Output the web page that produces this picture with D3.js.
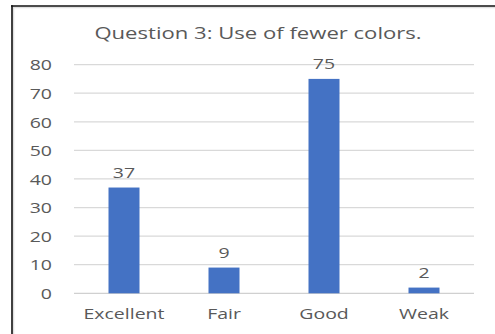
<!DOCTYPE html>
<html>
<head>
<meta charset="utf-8">
<script src="https://cdn.jsdelivr.net/npm/d3@7"></script>
<style>
  html, body { margin: 0; padding: 0; background: #fff; }
  svg { display: block; }
  text { font-family: "Open Sans", "DejaVu Sans", sans-serif; fill: #595959; }
</style>
</head>
<body>
<svg id="chart" width="495" height="334"></svg>
<script>
const title = "Question 3: Use of fewer colors.";
const categories = ["Excellent", "Fair", "Good", "Weak"];
const values = [37, 9, 75, 2];
const yTicks = [0, 10, 20, 30, 40, 50, 60, 70, 80];

const W = 495, H = 334;
const margin = { left: 74, right: 21, top: 65, bottom: 41 };
const stretch = 1.3; // wide lettering
const svg = d3.select("#chart");

// frame edges (top and left)
svg.append("line").attr("x1", 12).attr("x2", W).attr("y1", 7.5).attr("y2", 7.5)
  .attr("stroke", "#e0e0e0").attr("stroke-width", 1.5);
svg.append("line").attr("x1", 13.5).attr("x2", 13.5).attr("y1", 6).attr("y2", H)
  .attr("stroke", "#e0e0e0").attr("stroke-width", 1.5);
svg.append("line").attr("x1", 11).attr("x2", W).attr("y1", 6).attr("y2", 6)
  .attr("stroke", "#111").attr("stroke-width", 1.6);
svg.append("line").attr("x1", 12).attr("x2", 12).attr("y1", 5.2).attr("y2", H)
  .attr("stroke", "#111").attr("stroke-width", 1.6);

const x = d3.scaleBand().domain(categories)
  .range([margin.left, W - margin.right]).paddingInner(0.69).paddingOuter(0.345);
const y = d3.scaleLinear().domain([0, 80]).range([293.3, 64.6]);

// gridlines
svg.append("g").selectAll("line").data(yTicks).join("line")
  .attr("x1", margin.left).attr("x2", W - margin.right)
  .attr("y1", d => y(d)).attr("y2", d => y(d))
  .attr("stroke", d => d === 0 ? "#d0d0d0" : "#d9d9d9").attr("stroke-width", 1.2);

// y axis labels
const yAxis = d3.axisLeft(y).tickValues(yTicks).tickSize(0).tickPadding(0);
const gy = svg.append("g").attr("transform", "translate(52,0)").call(yAxis);
gy.select(".domain").remove();
gy.selectAll("text").style("font-size", "15px").attr("fill", "#595959")
  .attr("dy", "0.35em").attr("transform", `scale(${stretch},1)`);

// bars
svg.append("g").selectAll("rect").data(values).join("rect")
  .attr("x", (d, i) => x(categories[i]))
  .attr("width", x.bandwidth())
  .attr("y", d => y(d))
  .attr("height", d => y(0) - y(d))
  .attr("fill", "#4472c4");

// value labels
svg.append("g").selectAll("text").data(values).join("text")
  .attr("transform", (d, i) =>
    `translate(${x(categories[i]) + x.bandwidth() / 2},${y(d) - 10}) scale(${stretch},1)`)
  .attr("text-anchor", "middle")
  .style("font-size", "15px")
  .text(d => d);

// x axis labels
const xAxis = d3.axisBottom(x).tickSize(0).tickPadding(0);
const gx = svg.append("g").attr("transform", "translate(0,308)").call(xAxis);
gx.select(".domain").remove();
gx.selectAll("text").style("font-size", "15px").attr("fill", "#595959")
  .attr("dy", "0.71em").attr("transform", `scale(${stretch},1)`);

// title
svg.append("text").attr("transform", `translate(258,39) scale(${stretch},1)`)
  .attr("text-anchor", "middle")
  .style("font-size", "17px").text(title);
</script>
</body>
</html>
